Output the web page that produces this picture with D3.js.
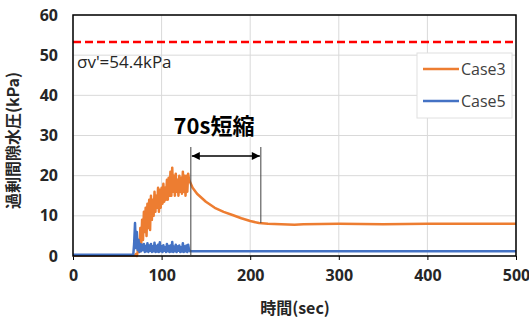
<!DOCTYPE html>
<html>
<head>
<meta charset="utf-8">
<script src="https://d3js.org/d3.v7.min.js"></script>
<style>
  body { margin: 0; background: #fff; }
  .grid line { stroke: #d9d9d9; stroke-width: 1; }
  .tick text { font-family: "Open Sans", "Noto Sans CJK JP", sans-serif; font-weight: bold; font-size: 16px; fill: #262626; }
</style>
</head>
<body>
<div id="content"></div>
<script>

  // Case3 (orange)
  var case3Time = [0, 70, 71, 72, 73, 74, 75, 76, 77, 78, 79, 80, 81, 82, 83, 84, 85, 86, 87, 88, 89,
    90, 91, 92, 93, 94, 95, 96, 97, 98, 99, 100, 101, 102, 103, 104, 105, 106, 107, 108, 109,
    110, 111, 112, 113, 114, 115, 116, 117, 118, 119, 120, 121, 122, 123, 124, 125, 126, 127, 128, 129,
    130, 131, 132, 135, 140, 145, 150, 160, 170, 180, 190, 200, 210, 220, 250, 260, 300, 350, 400, 450, 500];
  var case3Value = [0.1, 0.1, 0.5, 0, 1, 4, 1, 7, 3, 9, 4, 11, 6, 12, 5, 13, 7, 14, 6.5, 15, 9,
    14, 10, 16, 11, 15, 12, 17, 11, 16.5, 12, 17, 13, 18, 13.5, 17, 14, 19, 14, 19.5, 15,
    21, 15, 22, 16, 20, 15, 20.5, 16, 19, 15, 20, 16, 19.5, 15.5, 21, 16, 20, 15, 20, 16,
    20.5, 19, 18.5, 17, 15.5, 14.5, 13.5, 12, 11, 10.2, 9.4, 8.7, 8.2, 8, 7.8, 7.9, 8, 7.9, 8, 8, 8];

  // Case5 (blue)
  var case5Time = [0, 68, 69, 70, 71, 72, 73, 74, 75, 76, 77, 78, 79, 80, 81, 82, 83, 84, 85, 86, 87, 88, 89,
    90, 91, 92, 93, 94, 95, 96, 97, 98, 99, 100, 101, 102, 103, 104, 105, 106, 107, 108, 109,
    110, 111, 112, 113, 114, 115, 116, 117, 118, 119, 120, 121, 122, 123, 124, 125, 126, 127, 128, 129,
    130, 131, 132, 500];
  var case5Value = [0.3, 0.3, 3, 8.2, 2, 6, 1.5, 4, 1, 3, 1.2, 2.8, 1.5, 3, 1, 2.5, 1.2, 3.2, 1, 2.6, 1.3, 3, 1,
    2.4, 1.2, 3.3, 1, 2.5, 1.1, 2.8, 1, 3.4, 1.2, 2.4, 1, 2.7, 1.3, 2.2, 1, 3, 1.2, 2.5, 1,
    2.6, 1.1, 3.5, 1, 2.3, 1.2, 2.8, 1, 2.4, 1.3, 2.6, 1, 2.2, 1.1, 3.2, 1, 2.4, 1.2, 2.6, 1,
    2.8, 1.5, 1.2, 1.2];

  var xTicks = [0, 100, 200, 300, 400, 500];
  var yTicks = [0, 10, 20, 30, 40, 50, 60];
  var sigmaLevel = 53.3;
  var shortenStart = 133, shortenEnd = 212;

  var width = 529, height = 321;
  var margin = {top: 15, right: 13, bottom: 65, left: 73};
  var iw = width - margin.left - margin.right,
      ih = height - margin.top - margin.bottom;

  var svg = d3.select("#content").append("svg")
      .attr("width", width).attr("height", height);

  var x = d3.scaleLinear().domain([0, 500]).range([margin.left, margin.left + iw]);
  var y = d3.scaleLinear().domain([0, 60]).range([margin.top + ih, margin.top]);

  // grid
  var grid = svg.append("g").attr("class", "grid");
  grid.selectAll(".gx").data(xTicks).enter().append("line")
      .attr("x1", d => x(d)).attr("x2", d => x(d))
      .attr("y1", y(60)).attr("y2", y(0));
  grid.selectAll(".gy").data(yTicks).enter().append("line")
      .attr("x1", x(0)).attr("x2", x(500))
      .attr("y1", d => y(d)).attr("y2", d => y(d));

  // axes
  var xAxis = svg.append("g")
      .attr("transform", "translate(0," + y(0) + ")")
      .call(d3.axisBottom(x).tickValues(xTicks).tickSize(4).tickPadding(10));
  xAxis.select(".domain").remove();
  xAxis.selectAll(".tick line").attr("stroke", "#000");

  var yAxis = svg.append("g")
      .attr("transform", "translate(" + x(0) + ",0)")
      .call(d3.axisLeft(y).tickValues(yTicks).tickSize(0).tickPadding(15));
  yAxis.select(".domain").remove();

  // sigma line
  svg.append("line")
      .attr("x1", x(0)).attr("x2", x(500))
      .attr("y1", y(sigmaLevel)).attr("y2", y(sigmaLevel))
      .attr("stroke", "#ff0000").attr("stroke-width", 2.5)
      .attr("stroke-dasharray", "8,4");

  svg.append("text")
      .attr("x", x(0) + 4).attr("y", y(sigmaLevel) + 26)
      .attr("font-family", "'Open Sans', sans-serif").attr("font-size", 17)
      .attr("fill", "#262626")
      .text("σv'=54.4kPa");

  // series
  var line = d3.line().x(d => x(d[0])).y(d => y(d[1]));
  var case3 = case3Time.map((t, i) => [t, case3Value[i]]);
  var case5 = case5Time.map((t, i) => [t, case5Value[i]]);

  svg.append("path").datum(case3)
      .attr("d", line).attr("fill", "none")
      .attr("stroke", "#ed7d31").attr("stroke-width", 2.5).attr("stroke-linejoin", "round");
  svg.append("path").datum(case5)
      .attr("d", line).attr("fill", "none")
      .attr("stroke", "#4472c4").attr("stroke-width", 2.5).attr("stroke-linejoin", "round");

  // plot border
  svg.append("rect")
      .attr("x", x(0)).attr("y", y(60))
      .attr("width", x(500) - x(0)).attr("height", y(0) - y(60))
      .attr("fill", "none").attr("stroke", "#000").attr("stroke-width", 1.5);

  // annotation: 70s shortening
  var defs = svg.append("defs");
  defs.append("marker").attr("id", "ah")
      .attr("viewBox", "0 0 10 10").attr("refX", 10).attr("refY", 5)
      .attr("markerWidth", 10).attr("markerHeight", 8)
      .attr("markerUnits", "userSpaceOnUse")
      .attr("orient", "auto-start-reverse")
    .append("path").attr("d", "M0,0L10,5L0,10Z").attr("fill", "#000");

  var arrowY = 156, lineTop = 147;
  svg.append("line")
      .attr("x1", x(shortenStart)).attr("x2", x(shortenStart))
      .attr("y1", lineTop).attr("y2", y(0))
      .attr("stroke", "#404040").attr("stroke-width", 1);
  svg.append("line")
      .attr("x1", x(shortenEnd)).attr("x2", x(shortenEnd))
      .attr("y1", lineTop).attr("y2", y(8.2))
      .attr("stroke", "#404040").attr("stroke-width", 1);
  svg.append("line")
      .attr("x1", x(shortenStart) + 1).attr("x2", x(shortenEnd) - 1)
      .attr("y1", arrowY).attr("y2", arrowY)
      .attr("stroke", "#000").attr("stroke-width", 1.5)
      .attr("marker-start", "url(#ah)").attr("marker-end", "url(#ah)");

  svg.append("text")
      .attr("x", 214).attr("y", 134)
      .attr("text-anchor", "middle")
      .attr("font-family", "'Noto Sans CJK JP', sans-serif")
      .attr("font-weight", "bold").attr("font-size", 22)
      .attr("fill", "#000")
      .text("70s短縮");

  // legend
  var lg = svg.append("g");
  lg.append("rect").attr("x", 417).attr("y", 53).attr("width", 95).attr("height", 65)
      .attr("fill", "#fff").attr("stroke", "#e0e0e0");
  [["Case3", "#ed7d31", 69], ["Case5", "#4472c4", 101]].forEach(function(d) {
    lg.append("line").attr("x1", 423).attr("x2", 459).attr("y1", d[2]).attr("y2", d[2])
        .attr("stroke", d[1]).attr("stroke-width", 2.5);
    lg.append("text").attr("x", 461).attr("y", d[2]).attr("dy", "0.35em")
        .attr("font-family", "'Open Sans', sans-serif").attr("font-size", 16)
        .attr("fill", "#404040").text(d[0]);
  });

  // axis titles
  svg.append("text")
      .attr("transform", "translate(19," + (margin.top + ih / 2 + 5) + ") rotate(-90)")
      .attr("text-anchor", "middle")
      .attr("font-family", "'Noto Sans CJK JP', sans-serif")
      .attr("font-weight", "bold").attr("font-size", 16)
      .attr("fill", "#262626")
      .text("過剰間隙水圧(kPa)");

  svg.append("text")
      .attr("x", 295).attr("y", 314)
      .attr("text-anchor", "middle")
      .attr("font-family", "'Noto Sans CJK JP', sans-serif")
      .attr("font-weight", "bold").attr("font-size", 16)
      .attr("fill", "#262626")
      .text("時間(sec)");

</script>
</body>
</html>
